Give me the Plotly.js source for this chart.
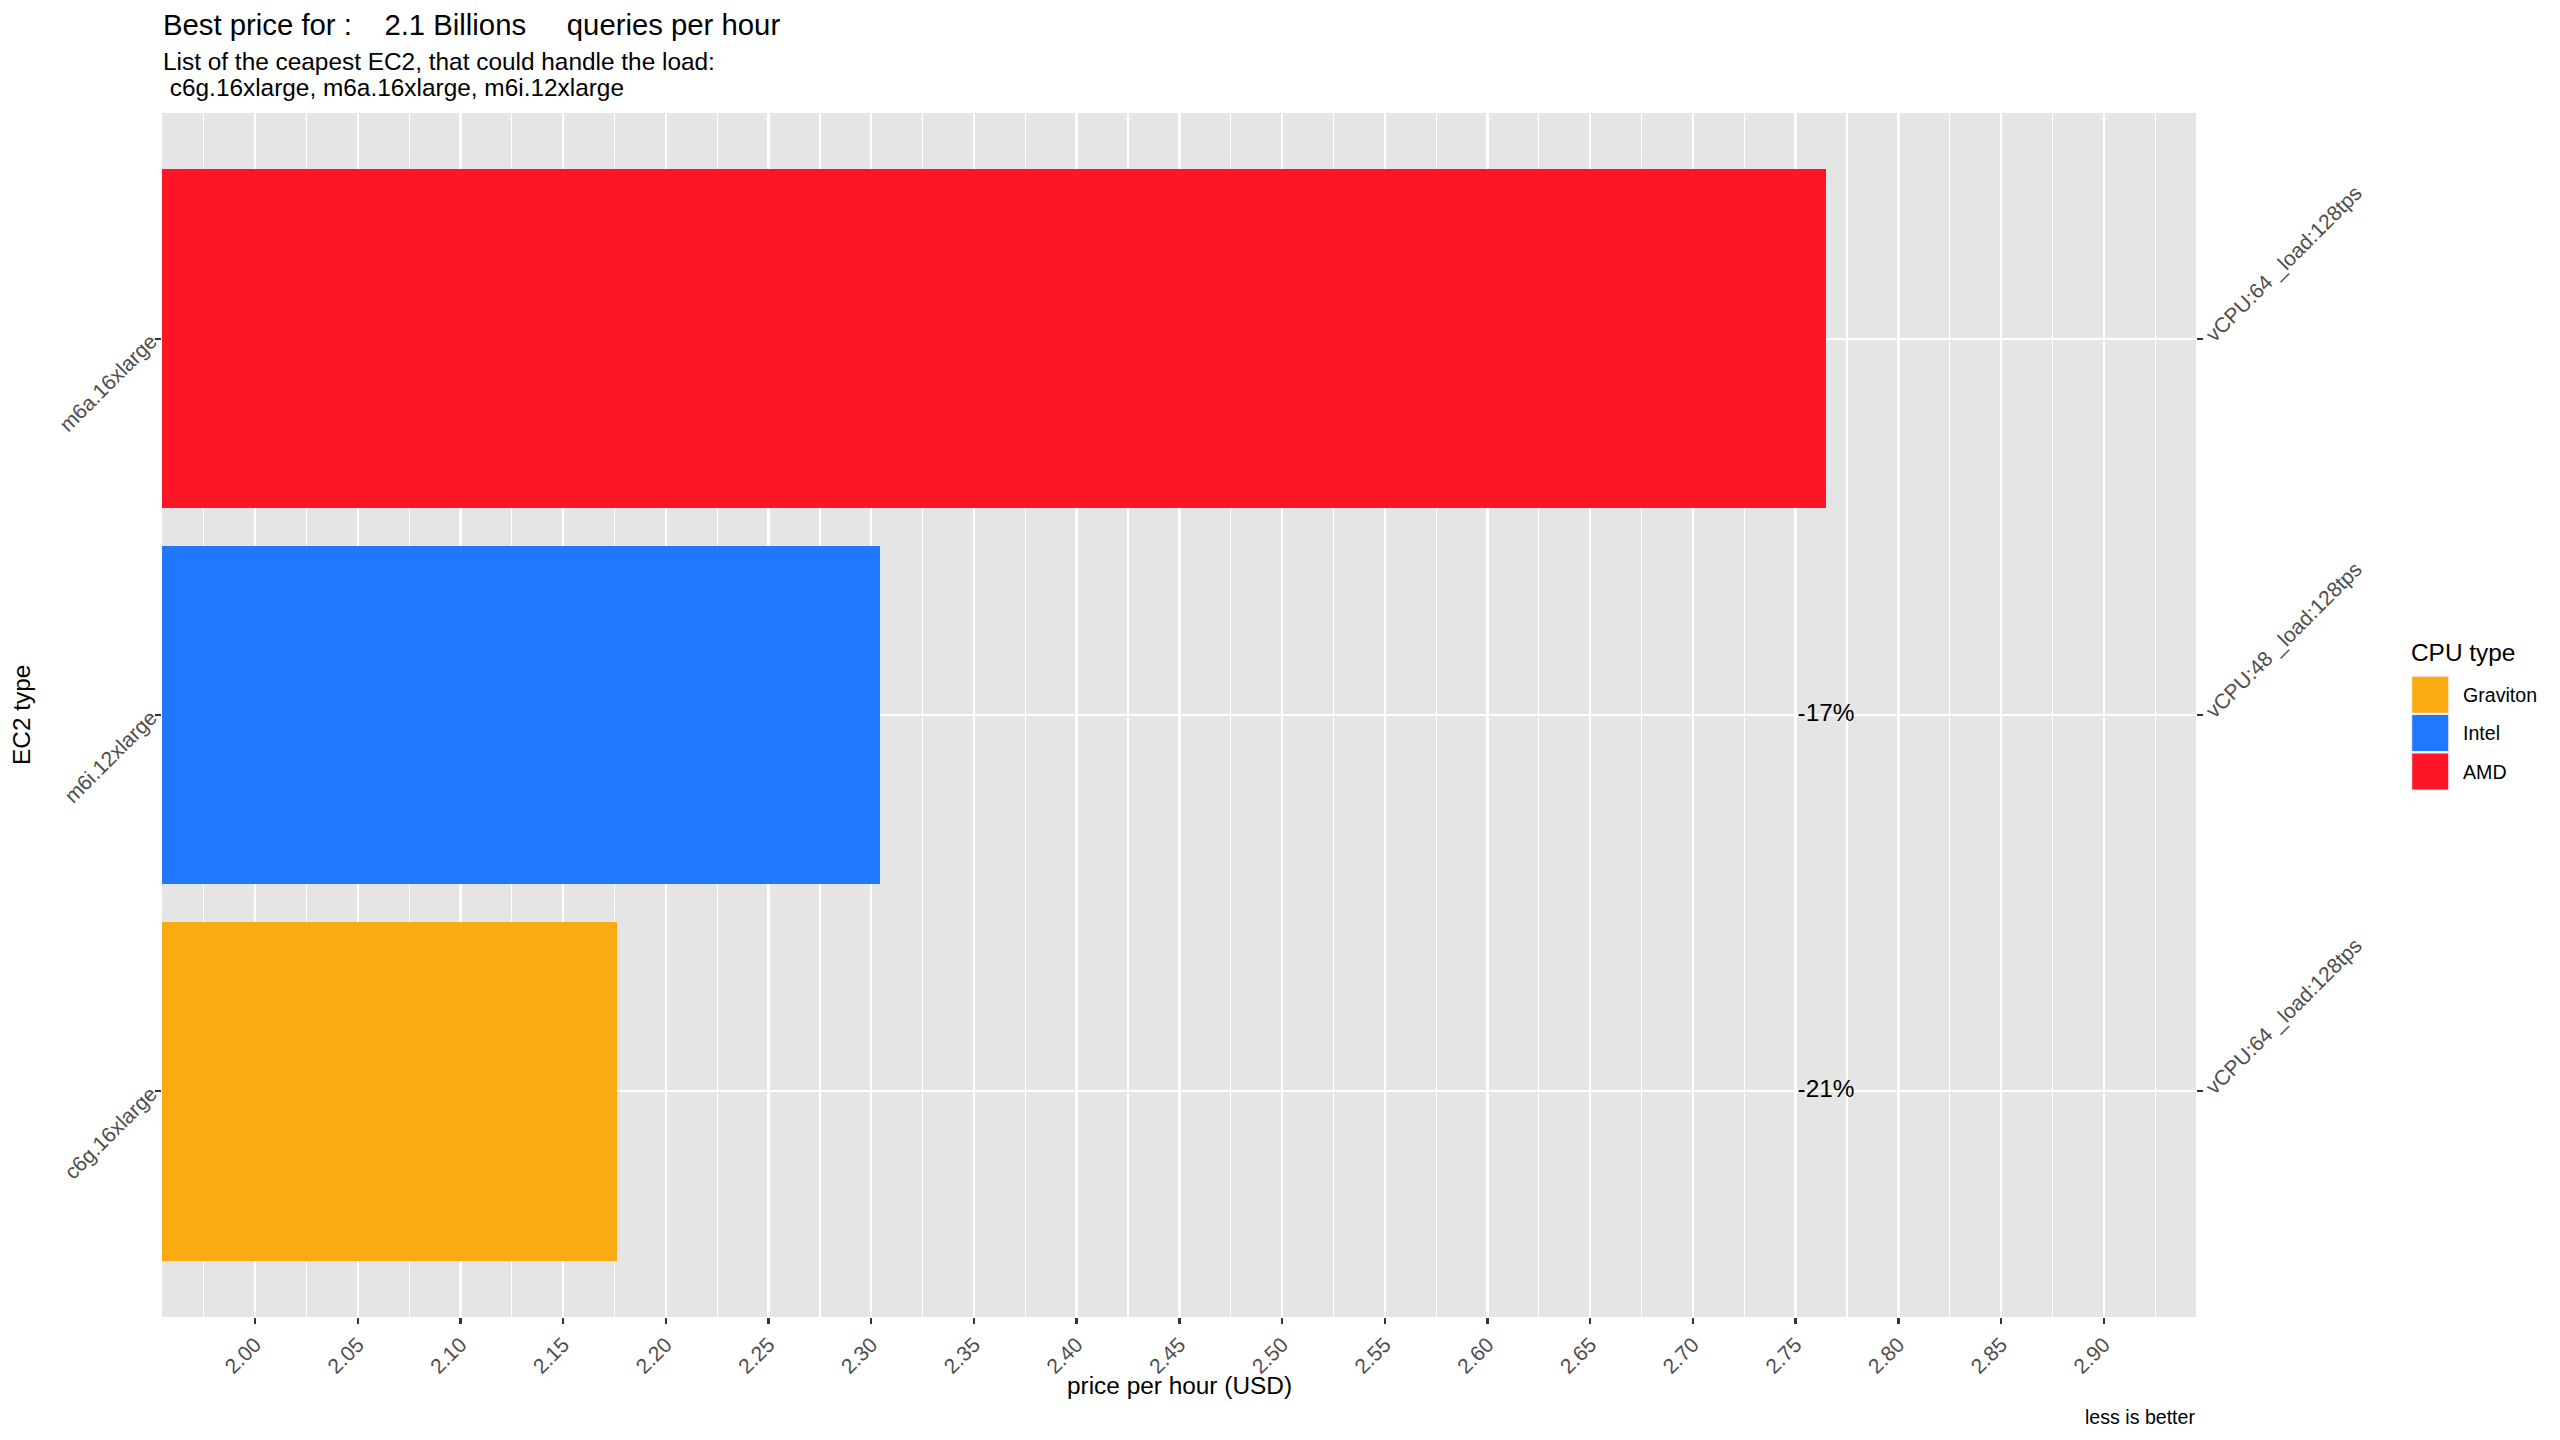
<!DOCTYPE html>
<html>
<head>
<meta charset="utf-8">
<script src="https://cdn.plot.ly/plotly-3.0.1.min.js"></script>
<style>
  html, body { margin: 0; padding: 0; background: #ffffff; }
  #chart { width: 2560px; height: 1440px; }
</style>
</head>
<body>
<div id="chart"></div>
<script>
// ---------- data ----------
const instances = ["c6g.16xlarge", "m6i.12xlarge", "m6a.16xlarge"];
const prices = [2.176, 2.304, 2.7648];
const cpuOfInstance = ["Graviton", "Intel", "AMD"];
const vcpuLabels = ["vCPU:64 _load:128tps", "vCPU:48 _load:128tps", "vCPU:64 _load:128tps"];
const pctLabels = ["-21%", "-17%", ""];
const legendTypes = ["Graviton", "Intel", "AMD"];

const titleText = "Best price for :\u00A0\u00A0\u00A0 2.1 Billions\u00A0\u00A0\u00A0\u00A0 queries per hour";
const subtitleLines = ["List of the ceapest EC2, that could handle the load:",
                       "\u00A0c6g.16xlarge, m6a.16xlarge, m6i.12xlarge"];
const xTitle = "price per hour (USD)";
const yTitle = "EC2 type";
const legendTitle = "CPU type";
const caption = "less is better";

// ---------- styles ----------
const colorMap = { Graviton: "#FBAB12", Intel: "#1F78FE", AMD: "#FC1628" };
const FONT = "Liberation Sans, Arial, Helvetica, sans-serif";

// plot area in pixels
const W = 2560, H = 1440;
const L = 162, R = 2196, T = 113, B = 1317;
const px = p => (p - L) / (R - L);
const py = p => (B - p) / (B - T);

const maxPrice = Math.max(...prices);

const traces = [
  {
    type: "bar",
    orientation: "h",
    x: prices,
    y: instances,
    width: 0.9,
    marker: { color: cpuOfInstance.map(c => colorMap[c]), line: { width: 0 } },
    showlegend: false,
    hoverinfo: "x+y"
  },
  {
    type: "scatter",
    mode: "text",
    x: instances.map(() => maxPrice),
    y: instances,
    text: pctLabels,
    textposition: "middle center",
    textfont: { family: FONT, size: 24.4, color: "#000000" },
    showlegend: false,
    hoverinfo: "skip"
  },
  {
    type: "scatter",
    mode: "markers",
    x: prices,
    y: instances.map((_, i) => i),
    yaxis: "y2",
    marker: { opacity: 0 },
    showlegend: false,
    hoverinfo: "skip"
  }
];

const annotations = [
  { text: titleText, x: px(L), y: py(25), xanchor: "left", yanchor: "middle",
    font: { family: FONT, size: 29.3, color: "#000000" } },
  { text: subtitleLines[0], x: px(L), y: py(61), xanchor: "left", yanchor: "middle",
    font: { family: FONT, size: 24.4, color: "#000000" } },
  { text: subtitleLines[1], x: px(L), y: py(87), xanchor: "left", yanchor: "middle",
    font: { family: FONT, size: 24.4, color: "#000000" } },
  { text: xTitle, x: 0.5, y: py(1385), xanchor: "center", yanchor: "middle",
    font: { family: FONT, size: 24.4, color: "#000000" } },
  { text: yTitle, x: px(21), y: 0.5, xanchor: "center", yanchor: "middle", textangle: -90,
    font: { family: FONT, size: 24.4, color: "#000000" } },
  { text: caption, x: 1, y: py(1417), xanchor: "right", yanchor: "middle",
    font: { family: FONT, size: 19.6, color: "#000000" } },
  { text: legendTitle, x: px(2410), y: py(652), xanchor: "left", yanchor: "middle",
    font: { family: FONT, size: 24.4, color: "#000000" } }
].map(a => Object.assign({ xref: "paper", yref: "paper", showarrow: false, borderpad: 0 }, a));

const shapes = [];
const keyTop = 675.5, keySize = 38.4, keyLeft = 2411;
legendTypes.forEach((t, i) => {
  const y0 = keyTop + i * keySize, y1 = y0 + keySize;
  shapes.push({ type: "rect", xref: "paper", yref: "paper", layer: "above",
    x0: px(keyLeft), x1: px(keyLeft + keySize), y0: py(y1), y1: py(y0),
    fillcolor: "#F2F2F2", line: { width: 0 } });
  shapes.push({ type: "rect", xref: "paper", yref: "paper", layer: "above",
    x0: px(keyLeft + 1.2), x1: px(keyLeft + keySize - 1.2), y0: py(y1 - 1.2), y1: py(y0 + 1.2),
    fillcolor: colorMap[t], line: { width: 0 } });
  annotations.push({ text: t, xref: "paper", yref: "paper", showarrow: false,
    x: px(2461), y: py((y0 + y1) / 2), xanchor: "left", yanchor: "middle",
    font: { family: FONT, size: 19.6, color: "#000000" } });
});

const tickFont = { family: FONT, size: 21, color: "#4D4D4D" };

const layout = {
  width: W, height: H,
  margin: { l: L, r: W - R, t: T, b: H - B, pad: 0 },
  paper_bgcolor: "#FFFFFF",
  plot_bgcolor: "#E5E5E5",
  font: { family: FONT },
  showlegend: false,
  bargap: 0,
  xaxis: {
    range: [1.9547, 2.9449],
    tick0: 2.0, dtick: 0.05,
    tickformat: ".2f",
    tickangle: -45,
    tickfont: tickFont,
    ticks: "outside", ticklen: 6, tickwidth: 2.4, tickcolor: "#333333",
    showgrid: true, gridcolor: "#FFFFFF", gridwidth: 2.4,
    minor: { tick0: 1.975, dtick: 0.05, showgrid: true, gridcolor: "#FFFFFF", gridwidth: 1.2, ticks: "" },
    zeroline: false, showline: false, automargin: false, fixedrange: true
  },
  yaxis: {
    type: "category",
    categoryorder: "array", categoryarray: instances,
    range: [-0.6, 2.6],
    tickangle: -45,
    tickfont: tickFont,
    ticks: "outside", ticklen: 6, tickwidth: 2.4, tickcolor: "#333333",
    showgrid: true, gridcolor: "#FFFFFF", gridwidth: 2.4,
    zeroline: false, showline: false, automargin: false, fixedrange: true
  },
  yaxis2: {
    overlaying: "y", side: "right", anchor: "x",
    range: [-0.6, 2.6],
    tickmode: "array", tickvals: instances.map((_, i) => i), ticktext: vcpuLabels,
    tickangle: -45,
    tickfont: tickFont,
    ticks: "outside", ticklen: 6, tickwidth: 2.4, tickcolor: "#333333",
    showgrid: false, zeroline: false, showline: false, automargin: false, fixedrange: true
  },
  annotations: annotations,
  shapes: shapes
};

Plotly.newPlot("chart", traces, layout, { displayModeBar: false, staticPlot: true });
</script>
</body>
</html>
